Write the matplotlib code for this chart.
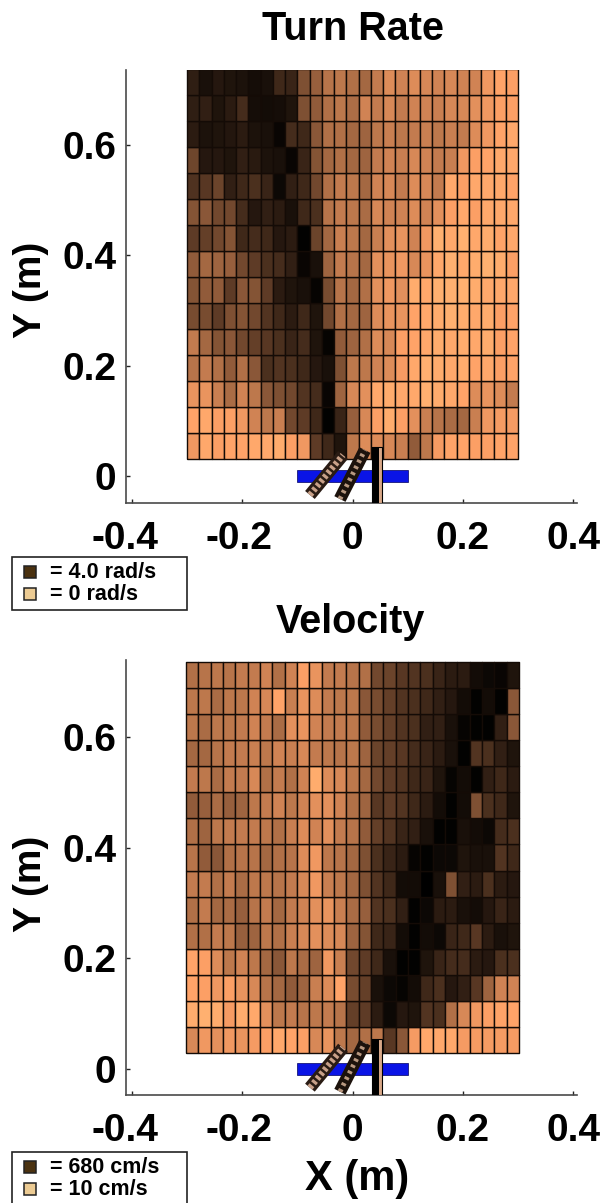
import numpy as np
import matplotlib
matplotlib.use("Agg")
import matplotlib.pyplot as plt
from matplotlib.patches import Rectangle
from matplotlib.transforms import ScaledTranslation

plt.rcParams["font.family"] = "Liberation Sans"
plt.rcParams["font.weight"] = "bold"

# cell shade, 0 = black, 100 = top of copper map. rows go top to bottom
turn_rate = [
    [15, 8, 12, 10, 9, 7, 8, 20, 18, 40, 48, 58, 60, 56, 52, 62, 70, 66, 70, 68, 66, 68, 66, 66, 76, 82, 80],
    [15, 16, 10, 14, 22, 7, 6, 7, 10, 40, 46, 56, 60, 55, 66, 62, 68, 62, 66, 66, 64, 68, 68, 72, 76, 80, 80],
    [14, 9, 10, 11, 14, 9, 8, 3, 22, 20, 44, 56, 56, 52, 50, 60, 64, 60, 62, 64, 60, 64, 62, 70, 76, 82, 84],
    [35, 12, 12, 10, 16, 13, 9, 8, 3, 18, 42, 52, 56, 52, 50, 62, 66, 64, 68, 66, 62, 64, 76, 80, 82, 84, 84],
    [25, 28, 34, 16, 20, 24, 18, 4, 16, 20, 36, 56, 62, 60, 52, 66, 68, 62, 70, 68, 62, 84, 80, 84, 84, 84, 82],
    [42, 44, 36, 36, 22, 12, 16, 14, 8, 20, 24, 58, 62, 60, 54, 68, 66, 66, 70, 66, 72, 80, 84, 80, 84, 84, 84],
    [30, 32, 36, 42, 20, 22, 20, 12, 14, 1, 34, 52, 64, 60, 52, 64, 72, 74, 66, 76, 88, 84, 88, 84, 86, 82, 84],
    [46, 52, 50, 48, 36, 30, 24, 22, 16, 3, 8, 50, 62, 58, 52, 72, 74, 76, 68, 74, 84, 88, 84, 86, 88, 86, 80],
    [42, 46, 46, 30, 44, 42, 30, 14, 10, 8, 2, 38, 58, 52, 56, 72, 76, 72, 86, 84, 88, 88, 88, 86, 84, 84, 84],
    [38, 38, 30, 40, 42, 36, 26, 20, 14, 20, 10, 36, 56, 52, 50, 70, 74, 74, 82, 84, 86, 88, 86, 84, 86, 80, 82],
    [62, 52, 42, 44, 36, 32, 28, 24, 18, 22, 10, 2, 46, 50, 56, 70, 68, 80, 82, 84, 86, 84, 86, 84, 86, 80, 82],
    [58, 62, 56, 46, 56, 44, 24, 26, 24, 20, 12, 8, 40, 60, 60, 66, 70, 78, 84, 88, 86, 84, 86, 82, 84, 80, 82],
    [74, 74, 64, 54, 66, 60, 44, 40, 36, 26, 22, 3, 50, 68, 72, 84, 86, 84, 84, 88, 86, 84, 82, 70, 74, 70, 62],
    [82, 84, 80, 80, 76, 66, 60, 64, 36, 30, 20, 1, 18, 48, 68, 80, 86, 80, 72, 64, 58, 54, 52, 64, 76, 78, 78],
    [76, 84, 80, 82, 82, 84, 84, 86, 80, 76, 30, 20, 10, 60, 70, 70, 68, 64, 46, 60, 78, 82, 82, 80, 80, 82, 82],
]

velocity = [
    [56, 58, 60, 58, 62, 62, 66, 56, 66, 80, 74, 62, 62, 58, 56, 36, 34, 28, 26, 24, 18, 14, 14, 6, 4, 3, 10],
    [60, 60, 54, 60, 60, 66, 68, 82, 64, 74, 70, 62, 60, 60, 44, 38, 32, 26, 24, 20, 16, 12, 6, 1, 6, 1, 44],
    [60, 54, 60, 60, 62, 66, 62, 54, 72, 74, 66, 62, 62, 60, 46, 38, 32, 26, 24, 16, 16, 8, 2, 1, 1, 16, 44],
    [52, 52, 58, 62, 62, 64, 60, 66, 64, 68, 62, 60, 58, 60, 50, 34, 32, 28, 22, 18, 14, 8, 1, 26, 24, 16, 10],
    [62, 60, 54, 62, 62, 68, 56, 62, 56, 66, 86, 70, 68, 60, 52, 36, 30, 26, 20, 18, 10, 2, 6, 1, 16, 20, 14],
    [46, 48, 54, 48, 50, 60, 62, 66, 60, 66, 72, 72, 66, 56, 50, 28, 30, 26, 20, 14, 6, 1, 6, 40, 24, 20, 10],
    [56, 50, 60, 62, 62, 62, 60, 56, 64, 70, 66, 72, 62, 58, 46, 32, 26, 18, 16, 8, 1, 1, 8, 6, 4, 22, 24],
    [58, 46, 44, 56, 58, 58, 52, 56, 58, 70, 76, 60, 58, 52, 40, 24, 18, 14, 2, 1, 4, 4, 10, 8, 8, 26, 20],
    [62, 62, 56, 62, 54, 60, 60, 58, 62, 68, 76, 64, 60, 52, 40, 26, 20, 6, 6, 0, 8, 40, 16, 14, 24, 14, 12],
    [56, 62, 52, 54, 48, 58, 62, 52, 62, 66, 72, 74, 64, 54, 48, 26, 24, 16, 1, 4, 14, 14, 8, 6, 12, 18, 14],
    [56, 56, 62, 60, 48, 50, 60, 56, 64, 68, 72, 70, 68, 50, 42, 20, 18, 6, 1, 6, 4, 18, 20, 28, 14, 8, 10],
    [82, 80, 70, 60, 66, 60, 52, 44, 60, 54, 50, 76, 64, 36, 30, 20, 8, 1, 1, 10, 18, 22, 22, 14, 12, 24, 24],
    [82, 80, 76, 80, 74, 68, 58, 52, 46, 50, 64, 70, 82, 38, 32, 8, 4, 2, 6, 20, 24, 12, 16, 28, 50, 66, 66],
    [86, 88, 86, 78, 86, 84, 72, 60, 62, 58, 60, 62, 58, 32, 30, 14, 4, 12, 10, 26, 24, 56, 68, 76, 80, 82, 82],
    [68, 76, 72, 76, 74, 78, 80, 84, 82, 80, 68, 74, 60, 52, 56, 60, 28, 44, 78, 84, 84, 84, 78, 78, 78, 78, 78],
]

x_ticks = [-0.4, -0.2, 0, 0.2, 0.4]
x_tick_labels = ["-0.4", "-0.2", "0", "0.2", "0.4"]
y_ticks = [0, 0.2, 0.4, 0.6]
y_tick_labels = ["0", "0.2", "0.4", "0.6"]

W, H = 603, 1203
AXIS_GRAY = "#4a4a4a"


def add_panel(values, top_px, bottom_px, title, title_x, title_y, x_edges, y_edges, ylim):
    ax = fig.add_axes([126 / W, 1 - bottom_px / H, (577 - 126) / W, (bottom_px - top_px) / H])
    ax.pcolormesh(x_edges, y_edges, np.array(values)[::-1], cmap="copper", vmin=0, vmax=100,
                  edgecolors="#140b06", linewidth=1.0, antialiased=True)
    ax.set_xlim(-0.411, 0.407)
    ax.set_ylim(*ylim)

    ax.spines["top"].set_visible(False)
    ax.spines["right"].set_visible(False)
    ax.spines["left"].set_color(AXIS_GRAY)
    ax.spines["bottom"].set_color(AXIS_GRAY)
    ax.spines["left"].set_linewidth(1.2)
    ax.spines["bottom"].set_linewidth(1.2)

    ax.set_xticks(x_ticks)
    ax.set_xticklabels(x_tick_labels, fontsize=28)
    ax.set_yticks(y_ticks)
    ax.set_yticklabels(y_tick_labels, fontsize=28)
    ax.tick_params(axis="x", direction="in", length=3, width=1, pad=13, color="#222222")
    ax.tick_params(axis="y", direction="in", length=3, width=1, pad=7, color="#222222")

    # labels on the left side sit a bit off their ticks in the original
    labels = ax.get_xticklabels()
    for lab, dx_px in zip(labels[:2], [-7, -3]):
        lab.set_transform(lab.get_transform() + ScaledTranslation(dx_px / 100, 0, fig.dpi_scale_trans))

    # plate and the three fins under the grid
    ax.add_patch(Rectangle((-0.1, -0.011), 0.2, 0.022, facecolor="#0a14e6", edgecolor="#000060",
                           linewidth=0.5, zorder=3))
    ax.plot([-0.0774, -0.0175], [-0.0344, 0.038], color="#2a1c14", lw=9, solid_capstyle="butt", zorder=4)
    ax.plot([-0.0774, -0.0175], [-0.0344, 0.038], color="#c8a088", lw=4.5, ls=(0, (0.5, 0.4)),
            dash_capstyle="butt", zorder=5)
    ax.plot([-0.023, 0.0223], [-0.0417, 0.0471], color="#1c120c", lw=9, solid_capstyle="butt", zorder=4)
    ax.plot([-0.023, 0.0223], [-0.0417, 0.0471], color="#b89880", lw=3.5, ls=(0, (0.6, 0.8)),
            dash_capstyle="butt", zorder=5)
    ax.add_patch(Rectangle((0.035, ylim[0]), 0.018, 0.053 - ylim[0], facecolor="#d8a888",
                           edgecolor="black", linewidth=0.8, zorder=4))
    ax.add_patch(Rectangle((0.035, ylim[0]), 0.0125, 0.053 - ylim[0], facecolor="black", zorder=5))

    fig.text(title_x / W, 1 - title_y / H, title, fontsize=28.5, ha="center", va="center")
    return ax


def add_key(deco, box_top, box_bottom, swatch_tops, labels):
    deco.add_patch(Rectangle((12, box_top), 175, box_bottom - box_top, facecolor="white",
                             edgecolor="#222222", linewidth=1.2))
    for top, color, label in zip(swatch_tops, ["#4b3210", "#eccb93"], labels):
        deco.add_patch(Rectangle((24, top), 12, 12, facecolor=color, edgecolor="#222222", linewidth=1.1))
        deco.text(50, top + 6.5, label, fontsize=15.5, va="center", ha="left")


fig = plt.figure(figsize=(W / 100, H / 100), dpi=100)

add_panel(turn_rate, 70, 502.7, "Turn Rate", 353, 29,
          np.linspace(-0.3, 0.3, 28), np.linspace(0.0308, 0.7374, 16), (-0.0484, 0.736))
add_panel(velocity, 660, 1095, "Velocity", 350, 622,
          np.linspace(-0.302, 0.302, 28), np.linspace(0.0279, 0.7367, 16), (-0.0477, 0.74))

fig.text(31 / W, 1 - 290 / H, "Y (m)", fontsize=28, rotation=90, ha="center", va="center")
fig.text(31 / W, 1 - 884 / H, "Y (m)", fontsize=28, rotation=90, ha="center", va="center")
fig.text(357 / W, 1 - 1179 / H, "X (m)", fontsize=30, ha="center", va="center")

deco = fig.add_axes([0, 0, 1, 1])
deco.set_xlim(0, W)
deco.set_ylim(H, 0)
deco.axis("off")
deco.patch.set_alpha(0)
add_key(deco, 557, 610, [566, 588], ["= 4.0 rad/s", "= 0 rad/s"])
add_key(deco, 1152, 1210, [1161, 1183], ["= 680 cm/s", "= 10 cm/s"])

plt.savefig("out.png", dpi=100)
